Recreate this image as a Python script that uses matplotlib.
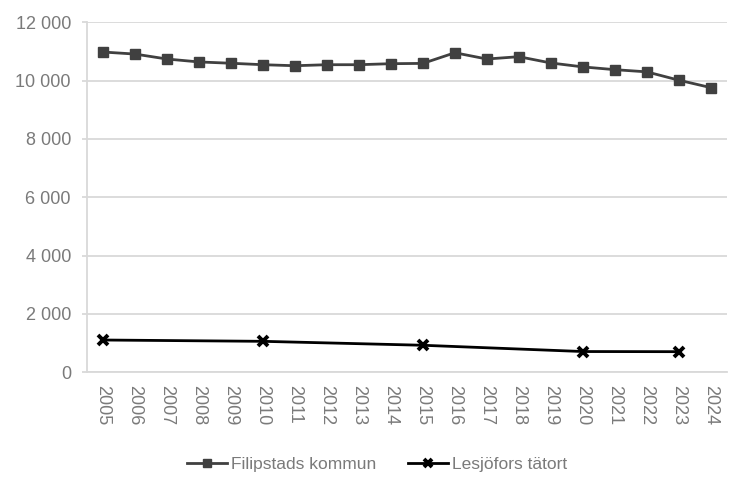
import matplotlib
matplotlib.use("Agg")
import matplotlib.pyplot as plt
from matplotlib.ticker import FuncFormatter

plt.rcParams['font.family'] = ['Liberation Sans', 'DejaVu Sans']

# data
years = [str(y) for y in range(2005, 2025)]
filipstad = [10980, 10910, 10740, 10640, 10595, 10545, 10510, 10545, 10545, 10580,
             10590, 10955, 10740, 10820, 10605, 10470, 10375, 10300, 10015, 9760]
lesjofors_years = ['2005', '2010', '2015', '2020', '2023']
lesjofors = [1105, 1060, 925, 710, 705]

grid_col = '#d9d9d9'
text_col = '#7a7a7a'
fs = 13

fig = plt.figure(figsize=(7.5, 4.95), dpi=100)
ax = fig.add_axes([0.116, 0.248, 0.853, 0.707])

x = list(range(len(years)))
lx = [years.index(y) for y in lesjofors_years]

ax.plot(x, filipstad, color='#404040', lw=2.0, marker='s', ms=7,
        label='Filipstads kommun', zorder=3)
ax.plot(lx, lesjofors, color='black', lw=2.0, marker='x', ms=7.5, mew=2.8,
        label='Lesjöfors tätort', zorder=3)

ax.set_xlim(-0.5, len(years) - 0.5)
ax.set_ylim(0, 12000)
ax.set_yticks(range(0, 12001, 2000))
ax.yaxis.set_major_formatter(FuncFormatter(lambda v, p: f"{int(v):,}".replace(',', ' ')))
ax.set_xticks(x)
ax.set_xticklabels(years, rotation=-90)

ax.grid(axis='y', color=grid_col, lw=1.3)
ax.set_axisbelow(True)
for s in ['top', 'right']:
    ax.spines[s].set_visible(False)
for s in ['left', 'bottom']:
    ax.spines[s].set_color(grid_col)
    ax.spines[s].set_linewidth(1.3)

ax.tick_params(axis='y', length=3.6, width=1.3, color=grid_col, labelcolor=text_col,
               labelsize=fs, pad=8)
ax.tick_params(axis='x', length=0, labelcolor=text_col, labelsize=fs, pad=9)

fig.legend(loc='center', bbox_to_anchor=(0.503, 0.062), ncol=2, frameon=False,
           fontsize=12.5, labelcolor=text_col, handlelength=2.3, columnspacing=1.8,
           handletextpad=0.25, markerscale=0.85)

fig.savefig('out.png', dpi=100)
